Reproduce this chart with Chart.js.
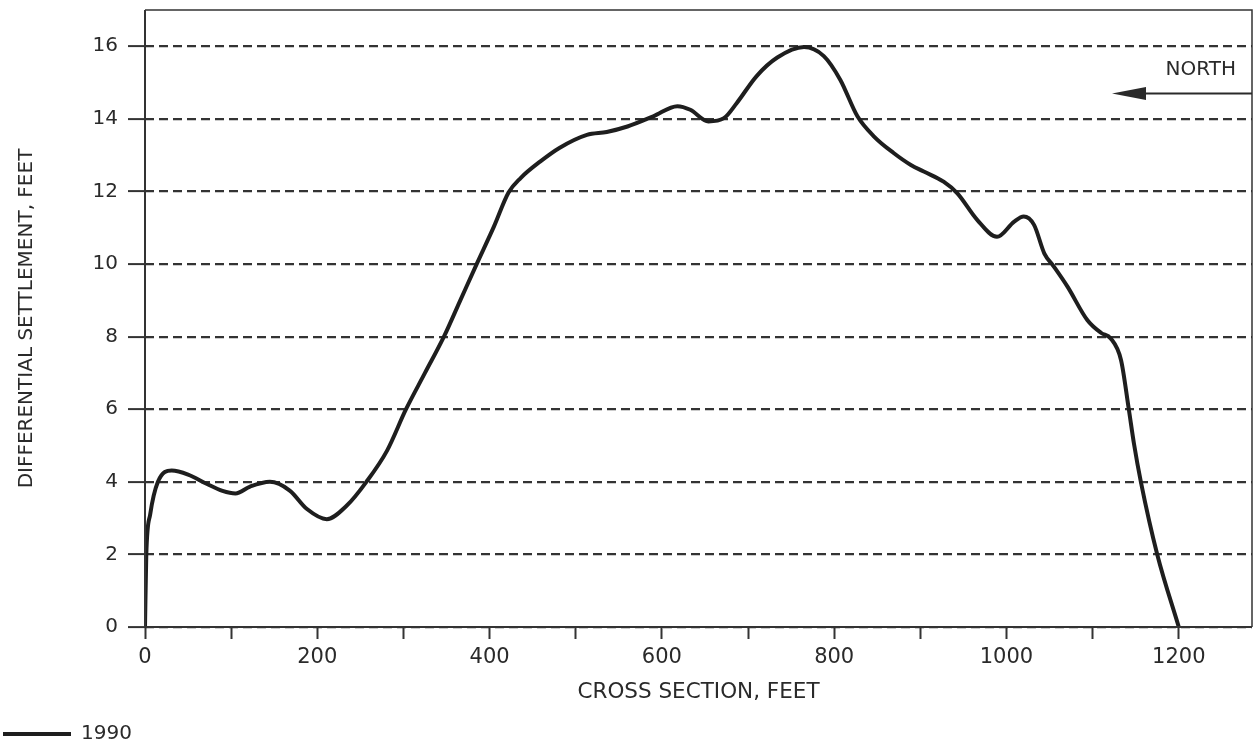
<!DOCTYPE html>
<html>
<head>
<meta charset="utf-8">
<script src="https://cdn.jsdelivr.net/npm/chart.js@4.4.1/dist/chart.umd.min.js"></script>
<style>
  html, body { margin: 0; padding: 0; background: #fff; }
  #wrap { width: 1254px; height: 749px; position: relative; }
</style>
</head>
<body>
<div id="wrap"><canvas id="c" width="1254" height="749"></canvas></div>
<script>
// ---- Data ----
const crossSectionFt = [0, 1.5, 6, 15, 31, 50, 72, 90, 105, 122, 145, 168, 188, 211, 234, 257, 281, 303, 325, 347, 366, 385, 405, 422, 436, 459, 481, 513, 536, 560, 590, 618, 633, 654, 672, 687, 710, 734, 765, 788, 807, 827, 846, 869, 889, 904, 927, 943, 966, 989, 1009, 1020, 1032, 1044, 1055, 1071, 1094, 1110, 1121, 1133, 1142, 1148, 1156, 1175, 1200];
const settlement1990 = [0, 2.0, 3.1, 4.0, 4.31, 4.2, 3.94, 3.75, 3.68, 3.87, 4.0, 3.76, 3.25, 2.97, 3.34, 4.0, 4.86, 6.0, 7.0, 8.0, 9.0, 10.0, 11.03, 11.97, 12.37, 12.83, 13.2, 13.56, 13.64, 13.79, 14.07, 14.35, 14.25, 13.93, 14.02, 14.44, 15.18, 15.69, 15.98, 15.73, 15.08, 14.07, 13.52, 13.06, 12.73, 12.55, 12.27, 11.95, 11.22, 10.75, 11.17, 11.31, 11.08, 10.29, 9.93, 9.37, 8.45, 8.1, 7.95, 7.35, 6.0, 5.05, 4.0, 2.0, 0];
const xTickValues = [0, 100, 200, 300, 400, 500, 600, 700, 800, 900, 1000, 1100, 1200];
const xLabelValues = [0, 200, 400, 600, 800, 1000, 1200];
const yTickValues = [0, 2, 4, 6, 8, 10, 12, 14, 16];
const seriesLabel = '1990';
const xTitle = 'CROSS SECTION, FEET';
const yTitle = 'DIFFERENTIAL SETTLEMENT, FEET';
const northLabel = 'NORTH';

const points = crossSectionFt.map((x, i) => ({ x: x, y: settlement1990[i] }));
const INK = '#2a2a2a';
const FONT = "'DejaVu Sans', 'Liberation Sans', Arial, sans-serif";

const framePlugin = {
  id: 'frameAndNorth',
  afterDraw(chart) {
    const { ctx, chartArea: a, scales } = chart;
    ctx.save();
    ctx.strokeStyle = '#333';
    ctx.lineWidth = 1.5;
    ctx.beginPath();
    ctx.moveTo(a.left, a.top);
    ctx.lineTo(a.right, a.top);
    ctx.lineTo(a.right, a.bottom);
    ctx.stroke();
    ctx.lineWidth = 2;
    ctx.beginPath();
    ctx.moveTo(a.left, a.top);
    ctx.lineTo(a.left, a.bottom);
    ctx.lineTo(a.right, a.bottom);
    ctx.stroke();
    // NORTH arrow
    const yArrow = scales.y.getPixelForValue(14.7);
    const yText = scales.y.getPixelForValue(15.35);
    ctx.fillStyle = INK;
    ctx.font = '20px ' + FONT;
    ctx.textAlign = 'right';
    ctx.textBaseline = 'middle';
    ctx.fillText(northLabel, a.right - 16, yText);
    ctx.strokeStyle = INK;
    ctx.lineWidth = 2;
    ctx.beginPath();
    ctx.moveTo(a.right, yArrow);
    ctx.lineTo(a.right - 110, yArrow);
    ctx.stroke();
    ctx.beginPath();
    ctx.moveTo(a.right - 140, yArrow);
    ctx.lineTo(a.right - 106, yArrow - 6.5);
    ctx.lineTo(a.right - 106, yArrow + 6.5);
    ctx.closePath();
    ctx.fill();
    ctx.restore();
  }
};

new Chart(document.getElementById('c'), {
  type: 'line',
  data: {
    datasets: [{
      label: seriesLabel,
      data: points,
      borderColor: '#1e1e1e',
      backgroundColor: '#1e1e1e',
      borderWidth: 4,
      pointRadius: 0,
      cubicInterpolationMode: 'monotone',
      fill: false
    }]
  },
  options: {
    responsive: false,
    animation: false,
    devicePixelRatio: 1,
    layout: { padding: { top: 10, right: 2, left: 3, bottom: -5 } },
    plugins: {
      tooltip: { enabled: false },
      legend: {
        display: true,
        position: 'bottom',
        align: 'start',
        labels: {
          usePointStyle: true,
          pointStyle: 'line',
          pointStyleWidth: 68,
          padding: 0,
          color: INK,
          font: { family: FONT, size: 20 }
        }
      }
    },
    scales: {
      x: {
        type: 'linear',
        min: 0,
        max: 1285,
        afterBuildTicks: (s) => { s.ticks = xTickValues.map(v => ({ value: v })); },
        afterFit: (s) => { s.height = 97; s.paddingLeft = 0; s.paddingRight = 0; },
        grid: {
          drawOnChartArea: false,
          drawTicks: true,
          tickLength: 12,
          tickWidth: 2,
          tickColor: '#333'
        },
        border: { display: false },
        ticks: {
          padding: 6,
          maxRotation: 0,
          autoSkip: false,
          color: INK,
          font: { family: FONT, size: 21 },
          callback: (v) => xLabelValues.includes(v) ? String(v) : ''
        },
        title: {
          display: true,
          text: xTitle,
          color: INK,
          font: { family: FONT, size: 21.5 },
          padding: { top: 0, bottom: 19 }
        }
      },
      y: {
        type: 'linear',
        min: 0,
        max: 17,
        afterBuildTicks: (s) => { s.ticks = yTickValues.map(v => ({ value: v })); },
        afterFit: (s) => { s.width = 142; s.paddingTop = 0; s.paddingBottom = 0; },
        grid: {
          drawOnChartArea: true,
          drawTicks: true,
          color: '#333',
          lineWidth: 2.2,
          tickLength: 17,
          tickWidth: 2,
          tickColor: '#333',
          tickBorderDash: []
        },
        border: { display: false, dash: [9, 5] },
        ticks: {
          padding: 10,
          color: INK,
          font: { family: FONT, size: 20 }
        },
        title: {
          display: true,
          text: yTitle,
          color: INK,
          font: { family: FONT, size: 20 },
          padding: { top: 12, bottom: 0 }
        }
      }
    }
  },
  plugins: [framePlugin]
});
</script>
</body>
</html>
